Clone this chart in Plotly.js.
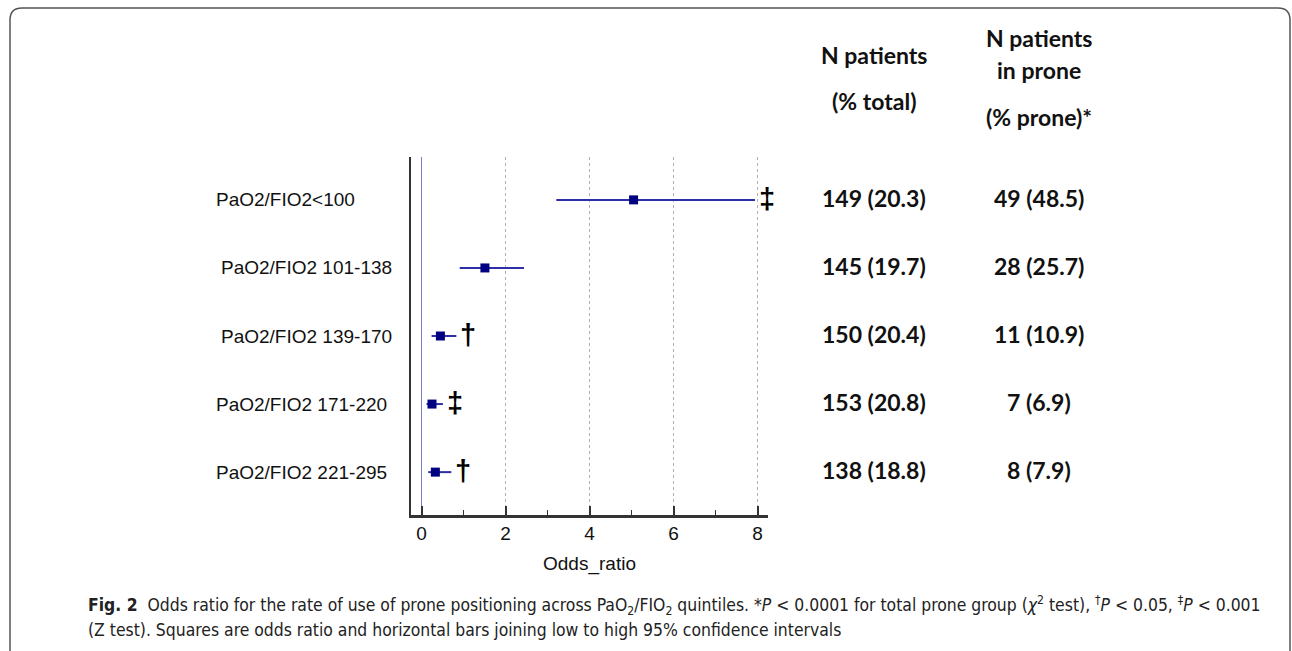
<!DOCTYPE html>
<html>
<head>
<meta charset="utf-8">
<script src="https://cdn.plot.ly/plotly-3.0.1.min.js"></script>
<style>html,body{margin:0;padding:0;background:#fff;}#chart{width:1292px;height:651px;}</style>
</head>
<body>
<div id="chart"></div>
<script>
// ---- data ----
const groups = ["PaO2/FIO2<100", "PaO2/FIO2 101-138", "PaO2/FIO2 139-170", "PaO2/FIO2 171-220", "PaO2/FIO2 221-295"];
const oddsRatio = [5.05, 1.51, 0.45, 0.25, 0.33];
const ciLow = [3.21, 0.91, 0.24, 0.12, 0.16];
const ciHigh = [7.94, 2.44, 0.83, 0.51, 0.71];
const significance = ["‡", "", "†", "‡", "†"];
const nPatients = ["149 (20.3)", "145 (19.7)", "150 (20.4)", "153 (20.8)", "138 (18.8)"];
const nProne = ["49 (48.5)", "28 (25.7)", "11 (10.9)", "7 (6.9)", "8 (7.9)"];
const header1 = ["N patients", "(% total)"];
const header2 = ["N patients", "in prone", "(% prone)*"];
const xTicks = [0, 2, 4, 6, 8];
const xTitle = "Odds_ratio";
const caption1 = "<b>Fig. 2</b>  Odds ratio for the rate of use of prone positioning across PaO<sub>2</sub>/FIO<sub>2</sub> quintiles. *<i>P</i> &lt; 0.0001 for total prone group (<i>χ</i><sup>2</sup> test), <sup>†</sup><i>P</i> &lt; 0.05, <sup>‡</sup><i>P</i> &lt; 0.001";
const caption2 = "(Z test). Squares are odds ratio and horizontal bars joining low to high 95% confidence intervals";

// ---- layout geometry (pixels) ----
const W = 1292, H = 651;
const L = 411, R = 768, T = 157, B = 515;
const px = x => (x - L) / (R - L);
const py = y => (B - y) / (B - T);

const rowY = groups.map((g, i) => groups.length - i);
const labelLeft = [214, 219, 219, 214, 214];

const trace = {
  type: 'scatter',
  mode: 'markers',
  x: oddsRatio,
  y: rowY,
  marker: {symbol: 'square', size: 9, color: '#000080'},
  error_x: {
    type: 'data', symmetric: false,
    array: oddsRatio.map((v, i) => ciHigh[i] - v),
    arrayminus: oddsRatio.map((v, i) => v - ciLow[i]),
    width: 0, thickness: 2, color: '#2e2ea8'
  },
  hoverinfo: 'x+y',
  showlegend: false
};

const ann = [];
const labelFont = {family: 'Liberation Sans, Arial, sans-serif', size: 19, color: '#111'};
groups.forEach((g, i) => {
  ann.push({text: g, xref: 'paper', yref: 'y', x: px(labelLeft[i]), y: rowY[i], xanchor: 'left', yanchor: 'middle', showarrow: false, font: labelFont});
  if (significance[i]) {
    ann.push({text: significance[i], xref: 'x', yref: 'y', x: ciHigh[i], y: rowY[i], xshift: 12, yshift: 1, xanchor: 'center', yanchor: 'middle', showarrow: false,
      font: {family: 'Liberation Sans, Arial, sans-serif', size: 29, color: '#000', weight: 'bold'}});
  }
  const numFont = {family: 'Lato, sans-serif', size: 23, color: '#111', weight: 'bold'};
  ann.push({text: nPatients[i], xref: 'paper', yref: 'y', x: px(874), y: rowY[i], yshift: 2, xanchor: 'center', yanchor: 'middle', showarrow: false, font: numFont});
  ann.push({text: nProne[i], xref: 'paper', yref: 'y', x: px(1039), y: rowY[i], yshift: 2, xanchor: 'center', yanchor: 'middle', showarrow: false, font: numFont});
});
const hFont = {family: 'Lato, sans-serif', size: 23, color: '#111', weight: 'bold'};
const h1Y = [55, 101], h2Y = [38, 70, 117];
header1.forEach((t, i) => ann.push({text: t, xref: 'paper', yref: 'paper', x: px(874), y: py(h1Y[i]), xanchor: 'center', yanchor: 'middle', showarrow: false, font: hFont}));
header2.forEach((t, i) => ann.push({text: t, xref: 'paper', yref: 'paper', x: px(1039), y: py(h2Y[i]), xanchor: 'center', yanchor: 'middle', showarrow: false, font: hFont}));
const capFont = {family: 'Liberation Sans Narrow, DejaVu Sans Condensed, sans-serif', size: 17.4, color: '#222'};
ann.push({text: caption1, xref: 'paper', yref: 'paper', x: px(86), y: py(605), xanchor: 'left', yanchor: 'middle', showarrow: false, font: capFont});
ann.push({text: caption2, xref: 'paper', yref: 'paper', x: px(86), y: py(630), xanchor: 'left', yanchor: 'middle', showarrow: false, font: capFont});

// rounded frame
const fl = 10, ft = 8, fr = 1290, fb = 652, rad = 12;
const P = (x, y) => px(x) + ',' + py(y);
const framePath = 'M' + P(fl, fb) + ' L' + P(fl, ft + rad) + ' Q' + P(fl, ft) + ' ' + P(fl + rad, ft) +
  ' L' + P(fr - rad, ft) + ' Q' + P(fr, ft) + ' ' + P(fr, ft + rad) + ' L' + P(fr, fb);

const layout = {
  width: W, height: H,
  margin: {l: L, r: W - R, t: T, b: H - B, pad: 0},
  paper_bgcolor: '#fff', plot_bgcolor: '#fff',
  showlegend: false,
  xaxis: {
    range: [-0.25, 8.25], tickmode: 'array', tickvals: xTicks, ticktext: xTicks.map(String),
    ticks: 'inside', ticklen: 9, tickwidth: 2, tickcolor: '#333',
    minor: {dtick: 1, ticks: 'inside', ticklen: 5, tickwidth: 1.5, tickcolor: '#333', showgrid: false},
    showline: true, linecolor: '#333', linewidth: 2.5,
    showgrid: true, gridcolor: '#b0b0b0', griddash: 'dot', gridwidth: 1,
    zeroline: true, zerolinecolor: '#7c7cc8', zerolinewidth: 1.5,
    tickfont: {family: 'Liberation Sans, Arial, sans-serif', size: 19, color: '#111'},
    title: {text: xTitle, font: {family: 'Liberation Sans, Arial, sans-serif', size: 19, color: '#111'}, standoff: 14},
    fixedrange: true
  },
  yaxis: {
    range: [0.37, 5.63], tickmode: 'array', tickvals: [], showticklabels: false, ticks: '', showgrid: false, zeroline: false,
    showline: true, linecolor: '#333', linewidth: 2.5, fixedrange: true
  },
  annotations: ann,
  shapes: [{type: 'path', xref: 'paper', yref: 'paper', path: framePath, line: {color: '#555', width: 1.5}, layer: 'above'}]
};

Plotly.newPlot('chart', [trace], layout, {displayModeBar: false, staticPlot: true});
</script>
</body>
</html>
